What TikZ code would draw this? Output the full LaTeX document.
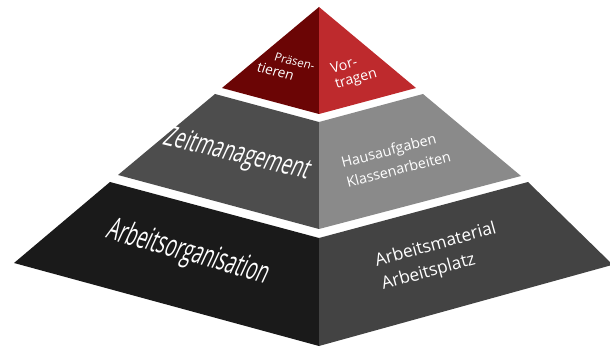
\documentclass[tikz,border=0pt]{standalone}
\usepackage{fontspec}
\setmainfont{Open Sans}
\definecolor{topL}{HTML}{6B0505}
\definecolor{topR}{HTML}{BE2A2D}
\definecolor{midL}{HTML}{4D4D4D}
\definecolor{midR}{HTML}{8A8A8A}
\definecolor{lowL}{HTML}{1A1A1A}
\definecolor{lowR}{HTML}{434343}
\tikzset{
  lbl/.style={text=white,inner sep=0pt,transform shape,align=left},
  lblc/.style={text=white,inner sep=0pt,transform shape,align=center},
}
\begin{document}
\begin{tikzpicture}[x=1pt,y=-1pt]
\useasboundingbox (0,0) rectangle (610,347);
% pyramid faces
\fill[topL] (319,7) -- (222,88) -- (319,114) -- cycle;
\fill[topR] (319,7) -- (416,88) -- (319,114) -- cycle;
\fill[midL] (215,94) -- (319,122) -- (319,229) -- (118,175) -- cycle;
\fill[midR] (423,94) -- (319,122) -- (319,229) -- (521,176) -- cycle;
\fill[lowL] (110,182) -- (319,238) -- (319,346) -- (14,263) -- cycle;
\fill[lowR] (528,182) -- (319,238) -- (319,346) -- (612,265) -- (612,264) -- cycle;
% labels
\begin{scope}[shift={(286,67)}]
 \node[lbl,font=\fontsize{11.5}{15}\selectfont,cm={.98,-.24,.32,.97,(0,0)}] (praesen) at (0,0) {\hspace*{13pt}Präsen-\\{\fontsize{13.5}{15}\selectfont tieren}};
\end{scope}
\begin{scope}[shift={(354,72)}]
 \node[lbl,font=\fontsize{14}{15.5}\selectfont,cm={.97,.28,-.28,.97,(0,0)}] (vortragen) at (0,0) {Vor-\\tragen};
\end{scope}
\begin{scope}[shift={(237,155)}]
 \node[lblc,font=\fontsize{23}{26}\selectfont,cm={.79,-.19,.52,1.15,(0,0)}] (zeit) at (0,0) {Zeitmanagement};
\end{scope}
\begin{scope}[shift={(396,159)}]
 \node[lbl,font=\fontsize{14.3}{20.5}\selectfont,cm={.97,.25,-.25,.97,(0,0)}] (haus) at (0,0) {Hausaufgaben\\Klassenarbeiten};
\end{scope}
\begin{scope}[shift={(188,253)}]
 \node[lblc,font=\fontsize{23}{26}\selectfont,cm={.76,-.215,.58,1.25,(0,0)}] (org) at (0,0) {Arbeitsorganisation};
\end{scope}
\begin{scope}[shift={(439,257)}]
 \node[lbl,font=\fontsize{17.3}{24}\selectfont,cm={.97,.27,-.27,.97,(0,0)}] (mat) at (0,0) {Arbeitsmaterial\\Arbeitsplatz};
\end{scope}
\end{tikzpicture}
\end{document}
